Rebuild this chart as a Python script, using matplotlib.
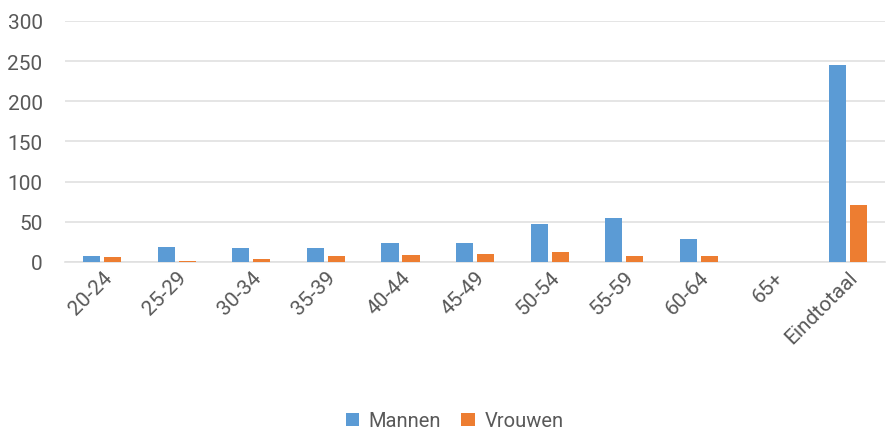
import matplotlib
matplotlib.use("Agg")
import matplotlib.pyplot as plt
import numpy as np

categories = ["20-24", "25-29", "30-34", "35-39", "40-44", "45-49", "50-54", "55-59", "60-64", "65+", "Eindtotaal"]
mannen = [7, 19, 17, 17, 23, 24, 47, 55, 28, 0, 245]
vrouwen = [6, 1, 4, 7, 8, 10, 12, 7, 7, 0, 71]
yticks = [0, 50, 100, 150, 200, 250, 300]

plt.rcParams['font.family'] = ['Roboto', 'DejaVu Sans']
text_color = '#595959'

fig = plt.figure(figsize=(8.88, 4.31), dpi=100)
ax = fig.add_axes([0.073, 0.39, 0.924, 0.559])

x = np.arange(len(categories))
w = 0.23
gap = 0.05
ax.bar(x - (w + gap) / 2, mannen, width=w, color='#5B9BD5', label='Mannen', zorder=3)
ax.bar(x + (w + gap) / 2, vrouwen, width=w, color='#ED7D31', label='Vrouwen', zorder=3)

ax.set_xlim(-0.5, len(categories) - 0.5)
ax.set_ylim(0, 300)
ax.set_yticks(yticks)
ax.yaxis.grid(True, color='#e0e0e0', linewidth=1.2, zorder=0)
ax.set_axisbelow(True)
for s in ['top', 'right', 'left']:
    ax.spines[s].set_visible(False)
ax.spines['bottom'].set_color('#e0e0e0')
ax.spines['bottom'].set_linewidth(1.2)
ax.tick_params(axis='both', length=0, colors=text_color, labelsize=15)
ax.tick_params(axis='y', pad=16)
ax.tick_params(axis='x', pad=4)
ax.set_xticks(x)
ax.set_xticklabels(categories, rotation=45, ha='right', rotation_mode='anchor')

fig.legend(loc='center', bbox_to_anchor=(0.512, 1 - 422 / 431), ncol=2, frameon=False,
           fontsize=14.5, labelcolor=text_color, handlelength=0.65, handleheight=0.65,
           columnspacing=1.0, handletextpad=0.5)

fig.savefig('out.png', dpi=100)
